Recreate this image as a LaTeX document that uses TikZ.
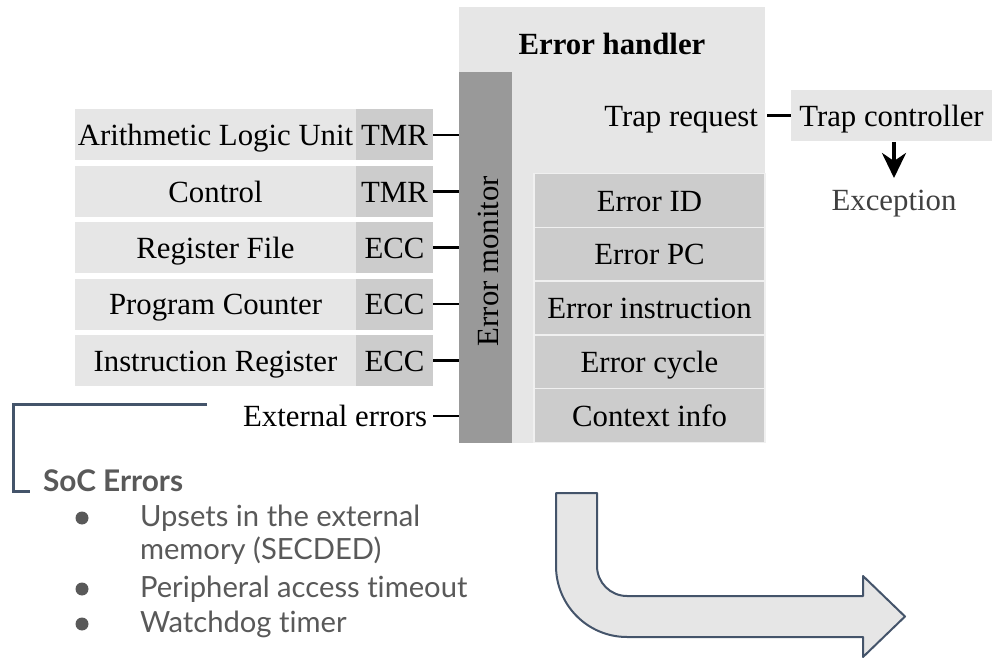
\documentclass[tikz,border=0pt]{standalone}
\usepackage{fontspec}
\setmainfont{Liberation Serif}
\newfontfamily\latofont[Ligatures=NoCommon]{Lato}
\usetikzlibrary{arrows.meta,calc}
\definecolor{panel}{HTML}{E6E6E6}
\definecolor{cell}{HTML}{CCCCCC}
\definecolor{cellsep}{HTML}{F0F0F0}
\definecolor{monbar}{HTML}{999999}
\definecolor{slate}{HTML}{44546A}
\definecolor{note}{HTML}{595959}
\definecolor{exctext}{HTML}{404040}

\begin{document}
\begin{tikzpicture}[x=1pt,y=-1pt,
  every node/.style={font=\fontsize{30.8}{36}\selectfont, inner sep=0pt, outer sep=0pt,
                     text height=27.5pt, text depth=6pt},
  unitbox/.style={fill=panel, minimum width=281pt, minimum height=51pt},
  codebox/.style={fill=cell, minimum width=77pt, minimum height=51pt},
  infobox/.style={fill=cell, draw=cellsep, line width=1.5pt, minimum width=231pt, minimum height=53.8pt},
  wire/.style={line width=2.6pt},
  notetext/.style={anchor=base west, text=note, font=\latofont\fontsize{29.2}{34}\selectfont},
  dot/.style={circle, fill=note, minimum size=13pt, text height=0pt, text depth=0pt},
  bent/.style={fill=panel, draw=slate, line width=2pt, line join=round}]

\useasboundingbox (0,0) rectangle (994,660);

% error handler panel and error monitor bar
\node[fill=panel, minimum width=306pt, minimum height=436pt] (eh) at (612,225) {};
\node[font=\bfseries\fontsize{30.8}{36}\selectfont] (ehtitle) at (612,44) {Error handler};
\node[fill=monbar, minimum width=53pt, minimum height=371pt] (mon) at (485.5,257.5) {};
\node[rotate=90] (monlbl) at (488,261) {Error monitor};

% protected units with their protection scheme
\foreach \i/\yy/\name/\code in {
    1/135/Arithmetic Logic Unit/TMR,
    2/191.4/Control/TMR,
    3/247.8/Register File/ECC,
    4/304.2/Program Counter/ECC,
    5/360.6/Instruction Register/ECC}{
  \node[unitbox] (u\i) at (215.5,\yy) {\name};
  \node[codebox] (c\i) at (394.5,\yy) {\code};
  \draw[wire] (c\i.east) -- (c\i.east -| mon.west);
}

\node[anchor=east, inner xsep=6pt] (ext) at (433,416) {External errors};
\draw[wire] (ext.east) -- (ext.east -| mon.west);

% error information registers
\foreach \i/\txt [count=\k from 0] in {1/Error ID, 2/Error PC, 3/Error instruction, 4/Error cycle, 5/Context info}{
  \node[infobox] (r\i) at (649.5,{200.4+53.8*\k}) {\txt};
}

% trap path
\node[anchor=east, inner xsep=9pt] (trq) at (767,115.5) {Trap request};
\node[fill=panel, minimum width=201pt, minimum height=51pt] (trap) at (891.5,115.5) {Trap controller};
\draw[wire] (trq.east) -- (trq.east -| trap.west);
\node[text=exctext] (exc) at (894,199.5) {Exception};
\coordinate (exctip) at (894,178);
\draw[line width=3.5pt, -{Stealth[length=25pt,width=24pt,inset=8pt]}, shorten <=1pt] (trap.south -| exctip) -- (exctip);

% SoC error bracket and list
\coordinate (brA) at (207,404.5);
\coordinate (brB) at (13,404.5);
\coordinate (brC) at (13,491.5);
\coordinate (brD) at (30,491.5);
\draw[slate, line width=3pt] (brA) -- (brB) -- (brC) -- (brD);
\node[anchor=base west, text=note, font=\latofont\bfseries\fontsize{29.8}{34}\selectfont] (soc) at (43,491) {SoC Errors};

\node[dot] (d1) at (82,518) {};
\node[notetext] (t1) at (140,526) {Upsets in the external};
\node[notetext] (t1b) at (140,559) {memory (SECDED)};
\node[dot] (d2) at (82,589) {};
\node[notetext] (t2) at (140,597) {Peripheral access timeout};
\node[dot] (d3) at (82,624) {};
\node[notetext] (t3) at (140,632) {Watchdog timer};

% bent arrow
\draw[bent] (556,493) -- (597,493) -- (597,566)
  arc[start angle=180, end angle=90, radius=30] -- (863,596) -- (863,576)
  -- (905,616.5) -- (863,657) -- (863,637) -- (627,637)
  arc[start angle=90, end angle=180, radius=71] -- cycle;

\end{tikzpicture}
\end{document}
